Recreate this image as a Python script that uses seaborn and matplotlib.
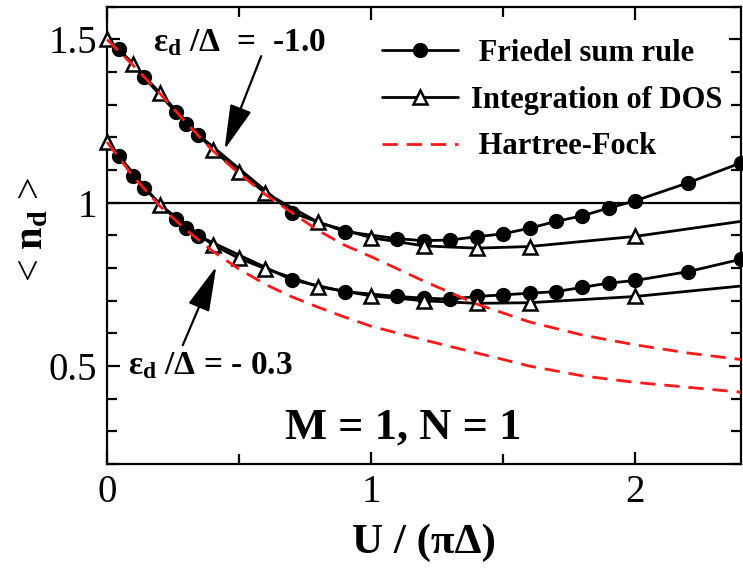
import matplotlib
matplotlib.use("Agg")
import matplotlib.pyplot as plt
import seaborn as sns
import pandas as pd
from matplotlib.ticker import MultipleLocator, FixedLocator, FixedFormatter

# ---------------- data ----------------
U_fr_up = [0.045, 0.14, 0.26, 0.30, 0.345, 0.70, 0.90, 1.1, 1.2, 1.3, 1.4, 1.5, 1.6, 1.7, 1.8, 1.9, 2.0, 2.2, 2.4]
n_fr_up = [1.472, 1.384, 1.278, 1.241, 1.209, 0.970, 0.912, 0.890, 0.884, 0.886, 0.896, 0.905, 0.922, 0.943, 0.960, 0.984, 1.006, 1.061, 1.122]

U_dos_up = [0.0, 0.1, 0.2, 0.4, 0.5, 0.6, 0.8, 1.0, 1.2, 1.4, 1.6, 2.0, 2.4]
n_dos_up = [1.502, 1.425, 1.336, 1.163, 1.093, 1.030, 0.940, 0.893, 0.868, 0.861, 0.866, 0.897, 0.943]

U_fr_lo = [0.045, 0.10, 0.14, 0.26, 0.30, 0.345, 0.70, 0.90, 1.1, 1.2, 1.3, 1.4, 1.5, 1.6, 1.7, 1.8, 1.9, 2.0, 2.2, 2.4]
n_fr_lo = [1.142, 1.081, 1.045, 0.950, 0.922, 0.899, 0.764, 0.728, 0.713, 0.708, 0.705, 0.713, 0.718, 0.723, 0.728, 0.741, 0.754, 0.762, 0.789, 0.827]

U_dos_lo = [0.0, 0.2, 0.4, 0.5, 0.6, 0.8, 1.0, 1.2, 1.4, 1.6, 2.0, 2.4]
n_dos_lo = [1.186, 0.994, 0.871, 0.830, 0.798, 0.743, 0.715, 0.700, 0.692, 0.694, 0.713, 0.745]

U_hf = [0.0, 0.1, 0.2, 0.3, 0.4, 0.5, 0.6, 0.7, 0.8, 0.9, 1.0, 1.2, 1.4, 1.6, 1.8, 2.0, 2.2, 2.4]
n_hf_up = [1.50, 1.42, 1.335, 1.245, 1.16, 1.09, 1.025, 0.97, 0.915, 0.87, 0.835, 0.76, 0.69, 0.635, 0.595, 0.565, 0.54, 0.52]
n_hf_lo = [1.186, 1.08, 0.99, 0.917, 0.852, 0.797, 0.75, 0.712, 0.68, 0.65, 0.622, 0.58, 0.54, 0.50, 0.47, 0.45, 0.435, 0.42]

legend_labels = [" Friedel sum rule", "Integration of DOS", " Hartree-Fock"]
x_ticks = [0, 1, 2]
x_tick_labels = ["0", "1", "2"]
y_ticks = [0.5, 1.0, 1.5]
y_tick_labels = ["0.5", "1", "1.5"]

# ---------------- style ----------------
sns.set_theme(style="ticks")
plt.rcParams["font.family"] = ["Liberation Serif", "DejaVu Serif"]
plt.rcParams["mathtext.fontset"] = "custom"
plt.rcParams["mathtext.rm"] = "Liberation Serif"
plt.rcParams["mathtext.bf"] = "Liberation Serif:bold"
plt.rcParams["mathtext.it"] = "Liberation Serif:italic"
plt.rcParams["axes.linewidth"] = 1.6
plt.rcParams["text.color"] = "black"
plt.rcParams["axes.labelcolor"] = "black"
plt.rcParams["xtick.color"] = "black"
plt.rcParams["ytick.color"] = "black"
plt.rcParams["axes.edgecolor"] = "black"

fig, ax = plt.subplots(figsize=(7.43, 5.69), dpi=100)
fig.subplots_adjust(left=0.144, right=0.997, top=0.988, bottom=0.1845)

ax.axhline(1.0, color="black", lw=1.6, zorder=1)

circle_kw = dict(color="black", marker="o", markersize=10, markerfacecolor="black",
                 markeredgecolor="black", markeredgewidth=1.0, lw=2.0, clip_on=False)
tri_kw = dict(color="black", marker="^", markersize=10.5, markerfacecolor="white",
              markeredgecolor="black", markeredgewidth=1.8, lw=2.0, clip_on=False)
hf_kw = dict(color="#ff1a1a", lw=2.0, linestyle=(0, (5.5, 3.2)), clip_on=False)

handles = []
sns.lineplot(x=U_fr_up, y=n_fr_up, ax=ax, zorder=3, legend=False, **circle_kw)
handles.append(ax.lines[-1])
sns.lineplot(x=U_fr_lo, y=n_fr_lo, ax=ax, zorder=3, legend=False, **circle_kw)
sns.lineplot(x=U_dos_up, y=n_dos_up, ax=ax, zorder=4, legend=False,
             markevery=list(range(len(U_dos_up) - 1)), **tri_kw)
handles.append(ax.lines[-1])
sns.lineplot(x=U_dos_lo, y=n_dos_lo, ax=ax, zorder=4, legend=False,
             markevery=list(range(len(U_dos_lo) - 1)), **tri_kw)
sns.lineplot(x=U_hf, y=n_hf_up, ax=ax, zorder=5, legend=False, **hf_kw)
handles.append(ax.lines[-1])
sns.lineplot(x=U_hf, y=n_hf_lo, ax=ax, zorder=5, legend=False, **hf_kw)

ax.set_xlim(0, 2.4)
ax.set_ylim(0.2, 1.6)

ax.xaxis.set_major_locator(FixedLocator(x_ticks))
ax.xaxis.set_major_formatter(FixedFormatter(x_tick_labels))
ax.xaxis.set_minor_locator(MultipleLocator(0.5))
ax.yaxis.set_major_locator(FixedLocator(y_ticks))
ax.yaxis.set_major_formatter(FixedFormatter(y_tick_labels))
ax.yaxis.set_minor_locator(MultipleLocator(0.1))

ax.tick_params(which="both", direction="in", top=True, right=True, width=1.6, colors="black")
ax.tick_params(which="major", length=9, labelsize=28, pad=7)
ax.tick_params(which="minor", length=7)
for s in ax.spines.values():
    s.set_visible(True)
    s.set_color("black")

ax.set_xlabel("U / (πΔ)", fontsize=31, fontweight="bold")
ax.xaxis.set_label_coords(0.5, -0.13)
ax.set_ylabel(r"< $\mathbf{n_d}$ >", fontsize=29)
ax.yaxis.set_label_coords(-0.088, 0.513)

leg = ax.legend(handles=handles, labels=legend_labels, loc="upper left",
                bbox_to_anchor=(0.434, 0.93), frameon=False, numpoints=1,
                handlelength=2.5, handletextpad=0.4, labelspacing=0.58,
                borderpad=0, borderaxespad=0,
                prop={"family": "Liberation Serif", "weight": "bold", "size": 22})

ax.text(0.174, 1.49, r"$\mathbf{ε_d}$ /Δ  =  -1.0", fontsize=24, fontweight="bold",
        ha="left", va="center")
ax.annotate("", xy=(0.445, 1.163), xytext=(0.584, 1.449),
            arrowprops=dict(arrowstyle="-|>,head_length=1.4,head_width=0.35",
                            color="black", lw=1.6, mutation_scale=20,
                            shrinkA=0, shrinkB=0))

ax.text(0.08, 0.50, r"$\mathbf{ε_d}$ /Δ = - 0.3", fontsize=24, fontweight="bold",
        ha="left", va="center")
ax.annotate("", xy=(0.414, 0.805), xytext=(0.287, 0.564),
            arrowprops=dict(arrowstyle="-|>,head_length=1.4,head_width=0.35",
                            color="black", lw=1.6, mutation_scale=20,
                            shrinkA=0, shrinkB=0))

ax.text(1.12, 0.313, "M = 1, N = 1", fontsize=32, fontweight="bold",
        ha="center", va="center")

fig.savefig("out.png", dpi=100)
